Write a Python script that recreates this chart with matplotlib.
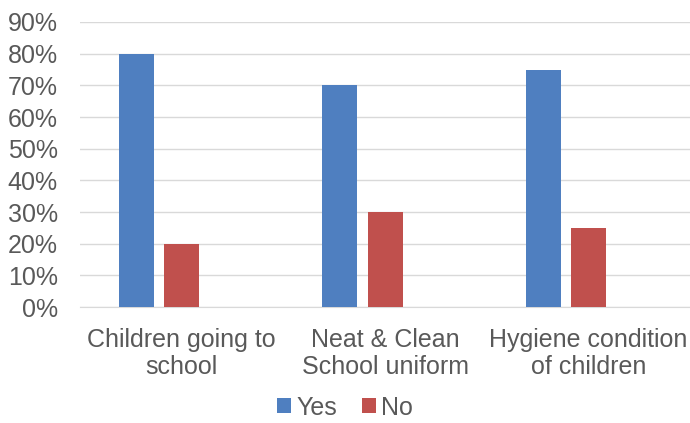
import numpy as np
import matplotlib.pyplot as plt
from matplotlib.ticker import PercentFormatter

categories = ["Children going to\nschool", "Neat & Clean\nSchool uniform", "Hygiene condition\nof children"]
yes_vals = [80, 70, 75]
no_vals = [20, 30, 25]

plt.rcParams['font.family'] = ['Liberation Sans', 'DejaVu Sans']

fig = plt.figure(figsize=(6.9, 4.23), dpi=100)
ax = fig.add_axes([0.116, 0.274, 0.884, 0.674])

x = np.arange(len(categories))
w = 0.172
step = 0.222
ax.bar(x - step, yes_vals, width=w, color="#4F7FC0", label="Yes", zorder=3)
ax.bar(x, no_vals, width=w, color="#C0504D", label="No", zorder=3)

ax.set_xlim(-0.5, 2.5)
ax.set_ylim(0, 90)
ax.set_yticks(range(0, 91, 10))
ax.yaxis.set_major_formatter(PercentFormatter(decimals=0))
ax.grid(axis="y", color="#D9D9D9", linewidth=1, zorder=0)
ax.set_xticks(x)
ax.set_xticklabels(categories, linespacing=1.18)
ax.tick_params(axis="both", length=0, labelsize=18, colors="#595959")
ax.tick_params(axis="x", pad=15)
ax.tick_params(axis="y", pad=16)
for s in ["top", "right", "left"]:
    ax.spines[s].set_visible(False)
ax.spines["bottom"].set_color("#D9D9D9")

fig.legend(loc="lower center", bbox_to_anchor=(0.5, -0.045), ncol=2, frameon=False,
           fontsize=18, labelcolor="#595959", handlelength=0.55, handleheight=0.55,
           handletextpad=0.2, columnspacing=1.0)

fig.savefig("out.png", dpi=100)
